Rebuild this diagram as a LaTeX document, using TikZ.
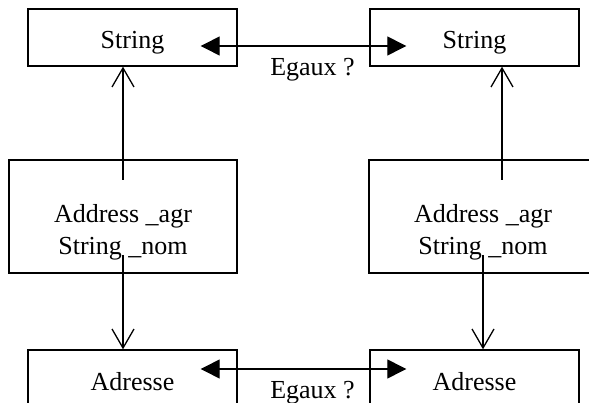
\documentclass[tikz,border=0pt]{standalone}
\usepackage{fontspec}
\setmainfont{Liberation Serif}
\usetikzlibrary{arrows.meta}

\tikzset{
    classbox/.style={draw, line width=1.4pt, minimum width=209pt, minimum height=57pt, text height=23pt, text depth=0pt, inner sep=0pt},
    objbox/.style={draw, line width=2.4pt, minimum width=228pt, minimum height=113pt, align=center, text height=84pt, text depth=7pt, inner sep=0pt},
    ref/.style={line width=1.3pt, -{Straight Barb[length=19pt,width=22pt]}},
    cmp/.style={line width=1.3pt, {Triangle[length=19pt,width=19pt]}-{Triangle[length=19pt,width=19pt]}},
}

\begin{document}
\begin{tikzpicture}[x=1pt, y=-1pt, font=\fontsize{26}{32}\selectfont]
    \clip (0,0) rectangle (589,403);

    \node[classbox] (str1) at (132.5,37.5) {String};
    \node[classbox] (str2) at (474.5,37.5) {String};
    \node[objbox] (obj1) at (123,216.5) {Address \_agr\\String \_nom};
    \node[objbox] (obj2) at (483,216.5) {Address \_agr\\String \_nom};
    \node[classbox] (adr1) at (132.5,378.5) {Adresse};
    \node[classbox] (adr2) at (474.5,378.5) {Adresse};

    % references held by each object
    \coordinate (up1) at ([yshift=36.5pt]obj1.center);
    \coordinate (up2) at ([xshift=19pt, yshift=36.5pt]obj2.center);
    \coordinate (dn1) at ([yshift=-38.5pt]obj1.center);
    \coordinate (dn2) at ([yshift=-38.5pt]obj2.center);
    \draw[ref] (up1) -- (up1 |- str1.south);
    \draw[ref] (up2) -- (up2 |- str2.south);
    \draw[ref] (dn1) -- (dn1 |- adr1.north);
    \draw[ref] (dn2) -- (dn2 |- adr2.north);

    % comparisons
    \coordinate (eqs1) at ([xshift=-37pt, yshift=-8.5pt]str1.east);
    \coordinate (eqs2) at ([xshift=37pt, yshift=-8.5pt]str2.west);
    \coordinate (eqa1) at ([xshift=-37pt, yshift=9.5pt]adr1.east);
    \coordinate (eqa2) at ([xshift=37pt, yshift=9.5pt]adr2.west);
    \draw[cmp] (eqs1) -- node[below=12pt, xshift=9pt, inner sep=0pt] {Egaux ?} (eqs2);
    \draw[cmp] (eqa1) -- node[below=12pt, xshift=9pt, inner sep=0pt] {Egaux ?} (eqa2);
\end{tikzpicture}
\end{document}
